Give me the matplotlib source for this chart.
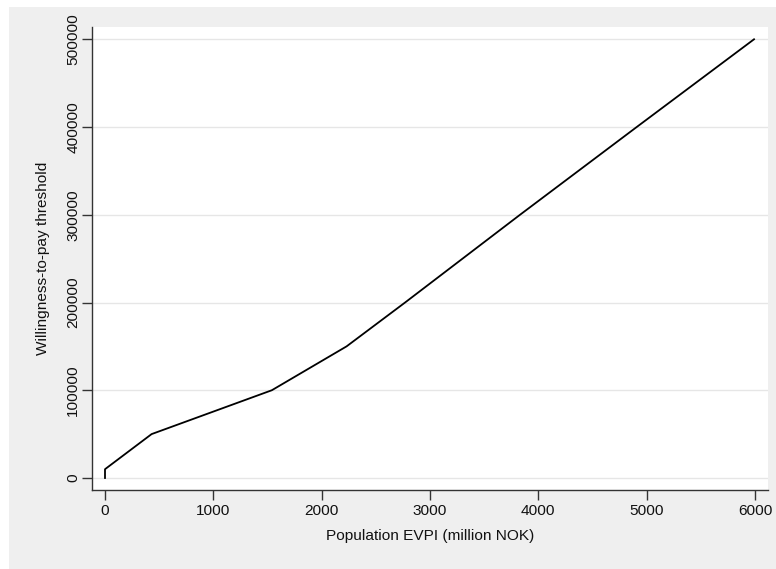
import matplotlib
matplotlib.use("Agg")
import matplotlib.pyplot as plt
from matplotlib.patches import Rectangle

# Data
evpi = [0, 0, 430, 1540, 2230, 2770, 3831, 4908, 5991]
wtp = [0, 10000, 50000, 100000, 150000, 200000, 300000, 400000, 500000]
xticks = [0, 1000, 2000, 3000, 4000, 5000, 6000]
yticks = [0, 100000, 200000, 300000, 400000, 500000]

plt.rcParams['font.family'] = ['Liberation Sans', 'DejaVu Sans']

W, H = 776, 569
fig = plt.figure(figsize=(W/100, H/100), dpi=100)
fig.patch.set_facecolor('white')
fig.patches.append(Rectangle((9/W, 0), 1 - 9/W, 1 - 7/H, transform=fig.transFigure,
                             facecolor='#efefef', edgecolor='none', zorder=-10))

left, right, top, bottom = 92, 768, 27, 490
ax = fig.add_axes([left/W, 1 - bottom/H, (right-left)/W, (bottom-top)/H])
ax.set_facecolor('white')

ax.plot(evpi, wtp, color='black', lw=1.3, zorder=3)

ax.set_xlim(-120, 6120)
ax.set_ylim(-13700, 514000)
ax.set_xticks(xticks)
ax.set_yticks(yticks)
ax.set_xticklabels([str(v) for v in xticks])
ax.set_yticklabels([str(v) for v in yticks], rotation=90, va='center')
ax.grid(axis='y', color='#e6e6e6', lw=1.0, zorder=0)
ax.set_axisbelow(True)

for s in ['top', 'right']:
    ax.spines[s].set_visible(False)
for s in ['left', 'bottom']:
    ax.spines[s].set_color('#333333')
    ax.spines[s].set_linewidth(1.0)

ax.tick_params(axis='both', length=7, width=1.0, color='#333333', labelsize=11.1,
               labelcolor='#111111')
ax.tick_params(axis='x', pad=3)
ax.tick_params(axis='y', pad=1.5)

ax.set_xlabel('Population EVPI (million NOK)', fontsize=11.1, labelpad=8, color='#111111')
ax.set_ylabel('Willingness-to-pay threshold', fontsize=11.1, labelpad=12, color='#111111')

fig.savefig('out.png', dpi=100, facecolor=fig.get_facecolor())
